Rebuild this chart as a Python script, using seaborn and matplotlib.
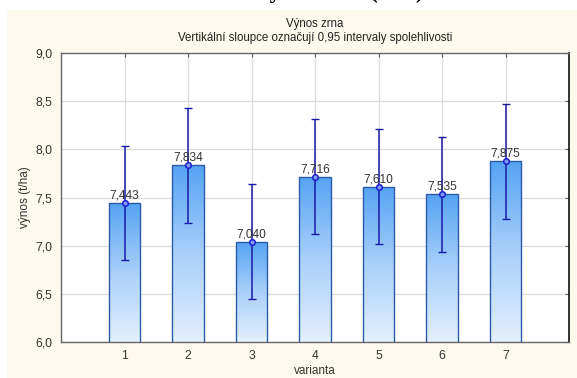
import numpy as np
import pandas as pd
import matplotlib
matplotlib.use("Agg")
import matplotlib.pyplot as plt
import seaborn as sns
from matplotlib.patches import Rectangle
from matplotlib.colors import LinearSegmentedColormap

# Mean grain yield per variant with 0.95 confidence limits
variants = [1, 2, 3, 4, 5, 6, 7]
means = [7.443, 7.834, 7.040, 7.716, 7.610, 7.535, 7.875]
ci_low = [6.847, 7.238, 6.444, 7.120, 7.014, 6.939, 7.279]
ci_high = [8.039, 8.430, 7.636, 8.312, 8.206, 8.131, 8.471]
mean_labels = ["7,443", "7,834", "7,040", "7,716", "7,610", "7,535", "7,875"]
y_ticks = [6.0, 6.5, 7.0, 7.5, 8.0, 8.5, 9.0]
y_ticklabels = ["6,0", "6,5", "7,0", "7,5", "8,0", "8,5", "9,0"]

sns.set_theme(style="white")
plt.rcParams["font.family"] = ["Liberation Sans", "DejaVu Sans"]

W, H = 577, 378
fig = plt.figure(figsize=(W / 100, H / 100), dpi=100, facecolor="white")

# cream panel behind the chart
fig.patches.append(Rectangle((7 / W, 0), 1 - 7 / W, (H - 10) / H,
                             transform=fig.transFigure, facecolor="#fdf9ee",
                             edgecolor="none", zorder=-5))

# document heading above the panel (runs off the top edge of the page crop)
fig.text(300 / W, 1 + 2.5 / H, "Graf 1: Výnos zrna (t/ha)", ha="center",
         va="baseline", fontsize=16.5, fontweight="bold",
         family=["Liberation Serif", "DejaVu Serif"], color="black")

ax = fig.add_axes([61 / W, 1 - 342 / H, (569 - 61) / W, (342 - 53) / H])
ax.set_facecolor("white")

df = pd.DataFrame({"varianta": variants, "vynos": means})
sns.barplot(data=df, x="varianta", y="vynos", native_scale=True, width=0.5,
            color="#6aaef5", edgecolor="#2a5aa8", linewidth=1.0,
            errorbar=None, ax=ax, zorder=2)

ax.set_xlim(0, 8)
ax.set_ylim(6.0, 9.0)

# vertical gradient fill inside each bar
cmap = LinearSegmentedColormap.from_list("barfill", ["#e4f0fd", "#a9d0fa", "#55a3f4"])
grad = np.linspace(0, 1, 256).reshape(-1, 1)
for p in list(ax.patches):
    x0, y0 = p.get_x(), p.get_y()
    w, h = p.get_width(), p.get_height()
    p.set_facecolor("none")
    p.set_zorder(3)
    ylo = ax.get_ylim()[0]
    im = ax.imshow(grad, cmap=cmap, origin="lower", aspect="auto",
                   extent=[x0, x0 + w, ylo, y0 + h], zorder=2.5,
                   interpolation="bicubic")
    im.set_clip_path(p)
ax.set_xlim(0, 8)
ax.set_ylim(6.0, 9.0)

# confidence intervals and means
yerr = [np.array(means) - np.array(ci_low), np.array(ci_high) - np.array(means)]
ax.errorbar(variants, means, yerr=yerr, fmt="none", ecolor="#1a1aa8",
            elinewidth=1.1, capsize=3, capthick=1.0, zorder=4)
ax.plot(variants, means, linestyle="none", marker="o", markersize=4,
        markerfacecolor="#7f9cf0", markeredgecolor="#1c1cd0",
        markeredgewidth=1.1, zorder=5)

for xv, m, lab in zip(variants, means, mean_labels):
    ax.annotate(lab, (xv, m), xytext=(0, 1.0), textcoords="offset points",
                ha="center", va="bottom", fontsize=8.6, color="#333333",
                zorder=6)

ax.set_xticks(variants)
ax.set_xticklabels([str(v) for v in variants])
ax.set_yticks(y_ticks)
ax.set_yticklabels(y_ticklabels)
ax.grid(True, color="#dcdcdc", linewidth=0.9, zorder=0)
ax.set_axisbelow(True)
ax.tick_params(axis="both", which="both", direction="in", length=3,
               width=0.8, colors="#555555", labelcolor="#333333",
               labelsize=8.7, pad=6, top=True, right=True)

for side in ["left", "bottom", "top"]:
    ax.spines[side].set_visible(True)
    ax.spines[side].set_color("#666666")
    ax.spines[side].set_linewidth(1.0)
ax.spines["right"].set_visible(True)
ax.spines["right"].set_color("#111111")
ax.spines["right"].set_linewidth(1.2)

ax.set_xlabel("varianta", fontsize=8.5, color="#333333", labelpad=2)
ax.set_ylabel("výnos (t/ha)", fontsize=8.5, color="#333333", labelpad=3)

fig.text((61 + 569) / 2 / W, 1 - 24 / H, "Výnos zrna", ha="center",
         va="center", fontsize=8.3, color="#222222")
fig.text((61 + 569) / 2 / W, 1 - 38 / H,
         "Vertikální sloupce označují 0,95 intervaly spolehlivosti",
         ha="center", va="center", fontsize=8.3, color="#222222")

fig.savefig("out.png", dpi=100, facecolor=fig.get_facecolor())
